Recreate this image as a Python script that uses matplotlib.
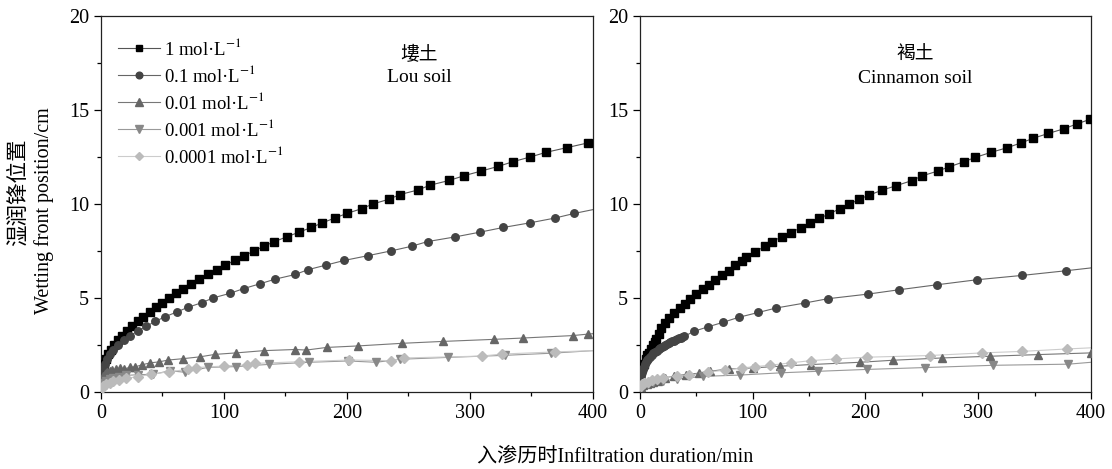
import matplotlib
matplotlib.use('Agg')
import matplotlib.pyplot as plt
from matplotlib.ticker import MultipleLocator

plt.rcParams['font.family'] = ['Liberation Serif', 'Noto Sans CJK SC', 'DejaVu Serif']
plt.rcParams['mathtext.fontset'] = 'stix'

# ---- Lou soil (left panel) ----
lou_t_1 = [0.5, 1, 1.5, 2.5, 4, 6, 8.5, 11, 14, 17.5, 21.5, 25.5, 30, 34.5, 39.5, 44.5, 49.5, 55,
           61, 67, 73.5, 80, 87, 94, 101, 109, 116.5, 124.5, 132.5, 141, 151, 161, 171, 180, 190,
           200, 212, 221, 234, 243, 258, 267.5, 283, 295, 309, 323, 335, 349, 362, 379, 396]
lou_v_1 = [0.75, 1.0, 1.25, 1.5, 1.75, 2.0, 2.25, 2.5, 2.75, 3.0, 3.25, 3.5, 3.75, 4.0, 4.25, 4.5,
           4.75, 5.0, 5.25, 5.5, 5.75, 6.0, 6.25, 6.5, 6.75, 7.0, 7.25, 7.5, 7.75, 8.0, 8.25, 8.5,
           8.75, 9.0, 9.25, 9.5, 9.75, 10.0, 10.25, 10.5, 10.75, 11.0, 11.25, 11.5, 11.75, 12.0,
           12.25, 12.5, 12.75, 13.0, 13.25]
lou_t_01 = [0.3, 0.8, 1.5, 2.5, 3.5, 5, 7, 10, 14, 19, 24, 30, 37, 44, 52, 61.5, 70.5, 82, 91, 105,
            116, 129, 141.5, 158, 168, 183, 198, 217, 235.5, 252.5, 265.5, 288, 308, 327, 349, 369, 385]
lou_v_01 = [0.5, 0.75, 1.0, 1.25, 1.5, 1.75, 2.0, 2.25, 2.5, 2.75, 3.0, 3.25, 3.5, 3.75, 4.0, 4.25,
            4.5, 4.75, 5.0, 5.25, 5.5, 5.75, 6.0, 6.25, 6.5, 6.75, 7.0, 7.25, 7.5, 7.75, 8.0, 8.25,
            8.5, 8.75, 9.0, 9.25, 9.5]
lou_t_001 = [0.5, 1, 2, 3, 4, 5, 7, 9, 12, 15.4, 19, 23.6, 28, 33, 40, 47, 54.7, 66.4, 80.5, 92.7,
             110, 132.5, 158, 167, 183.5, 209, 245, 278, 319.5, 343, 383.5, 396]
lou_v_001 = [0.5, 0.7, 0.85, 0.95, 1.0, 1.05, 1.1, 1.15, 1.2, 1.26, 1.23, 1.31, 1.34, 1.44, 1.55,
             1.6, 1.7, 1.77, 1.87, 2.0, 2.08, 2.2, 2.26, 2.23, 2.37, 2.45, 2.59, 2.69, 2.8, 2.87, 3.0, 3.08]
lou_t_0001 = [0.5, 2, 4, 7, 10, 15, 20, 30, 42.5, 56, 68, 87, 110, 137, 169, 201, 223.6, 243, 282,
              328.5, 365.6]
lou_v_0001 = [0.4, 0.5, 0.6, 0.7, 0.75, 0.82, 0.88, 0.92, 0.94, 1.13, 1.05, 1.31, 1.35, 1.47, 1.58,
              1.65, 1.58, 1.74, 1.84, 1.95, 2.06]
lou_t_00001 = [0.5, 2, 4, 7, 10, 15, 20, 30, 41, 55, 71, 77, 100, 118.5, 125, 161, 202, 235.5, 246,
               309.5, 326, 369]
lou_v_00001 = [0.2, 0.3, 0.4, 0.5, 0.58, 0.66, 0.72, 0.82, 0.94, 1.08, 1.2, 1.3, 1.38, 1.44, 1.52,
               1.61, 1.7, 1.67, 1.81, 1.91, 2.02, 2.13]
lou_end = [13.3, 9.7, 3.1, 2.2, 2.2]   # fitted line value at 400 min

# ---- Cinnamon soil (right panel) ----
cin_t_1 = [0.5, 2, 3.5, 5, 6.5, 8, 9.8, 11.5, 13, 14.2, 16.5, 18.6, 22.5, 26, 30.4, 35.5, 40.2, 44.4,
           49.7, 55.6, 60.9, 66.8, 72.8, 78.7, 84.5, 90.5, 94, 102, 111, 117, 125.7, 134, 142.6, 151,
           159, 168, 177, 185.7, 194.6, 203.5, 215, 227, 241, 250, 264, 274.5, 287, 297.5, 311,
           325.5, 338, 349, 362, 376, 387.5, 399.5]
cin_v_1 = [1.1, 1.3, 1.5, 1.75, 1.95, 2.1, 2.3, 2.5, 2.65, 2.8, 3.1, 3.4, 3.67, 3.94, 4.2, 4.47, 4.69,
           4.96, 5.22, 5.47, 5.7, 5.97, 6.23, 6.46, 6.76, 6.98, 7.2, 7.47, 7.74, 8.0, 8.25, 8.48, 8.74,
           9.01, 9.24, 9.47, 9.75, 9.98, 10.26, 10.48, 10.74, 10.97, 11.24, 11.49, 11.75, 11.98,
           12.24, 12.48, 12.74, 12.99, 13.25, 13.5, 13.75, 14.0, 14.26, 14.51]
cin_t_01 = [0.5, 1.5, 2.5, 3.5, 4.5, 5.5, 6.5, 7.5, 9, 10.5, 12, 13.5, 15, 16.5, 18, 19.5, 21, 22.5,
            24, 25.5, 27, 28.5, 30, 31.5, 33, 34.5, 36, 37.5, 39.3, 48, 60, 73.4, 87.5, 105, 121,
            146, 166.5, 202.6, 230, 263, 298.8, 338.7, 378]
cin_v_01 = [0.85, 1.05, 1.2, 1.35, 1.47, 1.58, 1.68, 1.77, 1.88, 1.97, 2.05, 2.13, 2.2, 2.27, 2.34,
            2.4, 2.45, 2.5, 2.55, 2.6, 2.65, 2.69, 2.73, 2.77, 2.81, 2.85, 2.88, 2.92, 2.96, 3.23,
            3.46, 3.7, 3.97, 4.23, 4.47, 4.73, 4.96, 5.21, 5.44, 5.7, 5.97, 6.2, 6.45]
cin_t_001 = [0.5, 3, 6, 9, 12, 16, 22, 30, 40.8, 52, 62, 78.7, 100, 124, 151.7, 195, 224.8, 267.7,
             310, 353.4, 400]
cin_v_001 = [0.25, 0.38, 0.45, 0.5, 0.55, 0.6, 0.75, 0.85, 0.93, 1.0, 1.1, 1.23, 1.28, 1.37, 1.46,
             1.58, 1.69, 1.81, 1.9, 1.99, 2.08]
cin_t_0001 = [0.5, 3, 7, 12, 20, 32.5, 55.6, 88.7, 125, 157.6, 201, 253, 313.5, 380]
cin_v_0001 = [0.25, 0.35, 0.45, 0.52, 0.6, 0.68, 0.83, 0.9, 1.02, 1.1, 1.2, 1.3, 1.42, 1.48]
cin_t_00001 = [0.5, 2, 4, 7, 11, 15, 20.7, 32.5, 43.7, 60, 75.7, 90.5, 102, 115, 133.7, 152, 174,
               201, 257, 303.7, 339, 379]
cin_v_00001 = [0.3, 0.4, 0.48, 0.55, 0.62, 0.7, 0.75, 0.84, 0.88, 1.06, 1.16, 1.28, 1.35, 1.42,
               1.55, 1.67, 1.76, 1.85, 1.94, 2.08, 2.16, 2.29]
cin_end = [14.55, 6.6, 2.1, 1.58, 2.35]

labels = [r'1 mol·L$^{-1}$', r'0.1 mol·L$^{-1}$', r'0.01 mol·L$^{-1}$',
          r'0.001 mol·L$^{-1}$', r'0.0001 mol·L$^{-1}$']
markers = ['s', 'o', '^', 'v', 'D']
marker_colors = ['#000000', '#444444', '#666666', '#888888', '#bbbbbb']
line_colors = ['#555555', '#666666', '#777777', '#999999', '#cccccc']
marker_sizes = [5.2, 5.4, 6.2, 6.2, 5.0]

lou = [(lou_t_1, lou_v_1), (lou_t_01, lou_v_01), (lou_t_001, lou_v_001),
       (lou_t_0001, lou_v_0001), (lou_t_00001, lou_v_00001)]
cin = [(cin_t_1, cin_v_1), (cin_t_01, cin_v_01), (cin_t_001, cin_v_001),
       (cin_t_0001, cin_v_0001), (cin_t_00001, cin_v_00001)]

fig = plt.figure(figsize=(11.12, 4.69), dpi=100)
ax1 = fig.add_axes([0.0908, 0.1642, 0.4424, 0.8017])
ax2 = fig.add_axes([0.5755, 0.1642, 0.4056, 0.8017])


def draw_panel(ax, series, ends):
    for i in range(len(series)):
        t, v = series[i]
        ax.plot(list(t) + [400], list(v) + [ends[i]], color=line_colors[i], lw=0.8, zorder=2)
        ax.plot(t, v, linestyle='none', marker=markers[i], ms=marker_sizes[i],
                color=marker_colors[i], mec=marker_colors[i], zorder=3)
    ax.set_xlim(0, 400)
    ax.set_ylim(0, 20)
    ax.xaxis.set_major_locator(MultipleLocator(100))
    ax.xaxis.set_minor_locator(MultipleLocator(50))
    ax.yaxis.set_major_locator(MultipleLocator(5))
    ax.yaxis.set_minor_locator(MultipleLocator(2.5))
    ax.tick_params(which='major', direction='out', length=5, width=0.9, labelsize=14.5)
    ax.tick_params(which='minor', direction='out', length=3, width=0.9)
    for s in ax.spines.values():
        s.set_linewidth(0.9)
        s.set_color('#222222')


draw_panel(ax1, lou, lou_end)
draw_panel(ax2, cin, cin_end)

# legend handles (line with marker)
handles = []
for i in range(5):
    h, = ax1.plot([], [], color=line_colors[i], lw=0.8, marker=markers[i], ms=marker_sizes[i] - 0.6,
                  mfc=marker_colors[i], mec=marker_colors[i])
    handles.append(h)
ax1.legend(handles, labels, loc='upper left', frameon=False, fontsize=13.5, handlelength=2.2,
           handletextpad=0.25, labelspacing=0.32, borderaxespad=0.0, bbox_to_anchor=(0.02, 0.962))

ax1.text(259, 17.95, '塿土', ha='center', va='center', fontsize=13.5, family=['Noto Sans CJK SC'])
ax1.text(259, 16.75, 'Lou soil', ha='center', va='center', fontsize=14)
ax2.text(244, 17.95, '褐土', ha='center', va='center', fontsize=13.5, family=['Noto Sans CJK SC'])
ax2.text(244, 16.7, 'Cinnamon soil', ha='center', va='center', fontsize=14)

fig.text(0.016, 0.59, '湿润锋位置', rotation=90, ha='center', va='center', fontsize=15.5,
         family=['Noto Sans CJK SC'])
fig.text(0.040, 0.55, 'Wetting front position/cm', rotation=90, ha='center', va='center', fontsize=14.5)
fig.text(0.553, 0.025, '入渗历时Infiltration duration/min', ha='center', va='center', fontsize=14.5)

plt.savefig('out.png', dpi=100)
